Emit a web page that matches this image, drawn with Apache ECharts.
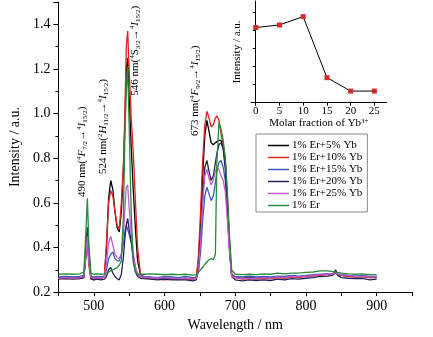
<!DOCTYPE html>
<html>
<head>
<meta charset="utf-8">
<script src="https://cdn.jsdelivr.net/npm/echarts@6/dist/echarts.min.js"></script>
<style>html,body{margin:0;padding:0;background:#fff;}#c{width:433px;height:337px;}</style>
</head>
<body>
<div id="c"></div>
<script>
const wavelength = [450,460,470,480,486,489,491,493,496,500,505,510,515,518,521,524,527,530,533,536,539,542,544,546,548,550,553,556,559,562,566,570,580,590,600,610,620,630,640,645,648,651,654,657,660,663,666,669,672,674,677,680,683,686,689,692,695,700,710,720,730,740,750,760,770,780,790,800,810,820,830,838,842,845,850,860,870,880,890,900];

const er1yb5 = [0.265,0.262,0.265,0.264,0.27,0.38,0.47,0.34,0.262,0.262,0.265,0.262,0.27,0.40,0.62,0.70,0.66,0.56,0.49,0.47,0.56,0.75,0.95,1.2,1.25,1.08,0.85,0.65,0.48,0.34,0.28,0.27,0.265,0.262,0.26,0.262,0.26,0.262,0.258,0.265,0.33,0.5,0.72,0.9,0.97,0.92,0.87,0.86,0.87,0.87,0.88,0.88,0.85,0.78,0.6,0.4,0.28,0.268,0.262,0.265,0.262,0.265,0.262,0.268,0.265,0.27,0.268,0.272,0.275,0.278,0.28,0.28,0.29,0.28,0.275,0.272,0.268,0.27,0.265,0.268];

const er1yb10 = [0.262,0.26,0.262,0.26,0.265,0.36,0.44,0.32,0.258,0.255,0.26,0.258,0.27,0.42,0.60,0.655,0.63,0.56,0.5,0.48,0.6,0.78,1.0,1.3,1.37,1.2,0.98,0.82,0.6,0.4,0.28,0.265,0.26,0.258,0.255,0.258,0.256,0.258,0.255,0.27,0.36,0.56,0.79,0.95,1.01,0.98,0.94,0.95,0.98,0.99,0.97,0.91,0.86,0.8,0.62,0.42,0.28,0.265,0.258,0.26,0.258,0.262,0.26,0.265,0.262,0.268,0.265,0.27,0.272,0.275,0.278,0.278,0.285,0.278,0.275,0.27,0.268,0.27,0.265,0.265];

const er1yb15 = [0.268,0.27,0.268,0.27,0.275,0.37,0.46,0.34,0.27,0.268,0.27,0.268,0.27,0.3,0.35,0.37,0.38,0.35,0.34,0.34,0.37,0.42,0.47,0.5,0.5,0.46,0.42,0.36,0.31,0.28,0.27,0.27,0.268,0.265,0.27,0.268,0.265,0.27,0.265,0.265,0.29,0.38,0.52,0.63,0.67,0.64,0.61,0.63,0.69,0.74,0.78,0.79,0.76,0.7,0.55,0.38,0.27,0.27,0.268,0.272,0.268,0.27,0.268,0.272,0.27,0.275,0.272,0.275,0.278,0.28,0.282,0.282,0.29,0.28,0.278,0.275,0.272,0.275,0.27,0.27];

const er1yb20 = [0.258,0.26,0.258,0.26,0.265,0.40,0.49,0.36,0.26,0.255,0.258,0.255,0.258,0.27,0.3,0.31,0.285,0.27,0.26,0.255,0.28,0.36,0.44,0.5,0.53,0.48,0.43,0.34,0.29,0.27,0.262,0.26,0.258,0.255,0.258,0.255,0.256,0.255,0.25,0.255,0.3,0.45,0.62,0.76,0.79,0.74,0.70,0.72,0.78,0.82,0.86,0.87,0.84,0.75,0.58,0.4,0.27,0.255,0.25,0.255,0.252,0.255,0.252,0.258,0.255,0.26,0.258,0.262,0.265,0.27,0.272,0.275,0.3,0.275,0.265,0.262,0.26,0.262,0.255,0.258];

const er1yb25 = [0.262,0.265,0.262,0.265,0.27,0.36,0.45,0.33,0.265,0.262,0.265,0.262,0.27,0.33,0.42,0.45,0.41,0.37,0.355,0.35,0.37,0.46,0.57,0.67,0.68,0.58,0.46,0.37,0.31,0.28,0.27,0.268,0.265,0.262,0.265,0.262,0.26,0.262,0.258,0.262,0.3,0.42,0.6,0.72,0.75,0.71,0.68,0.7,0.74,0.76,0.75,0.72,0.7,0.65,0.52,0.38,0.27,0.265,0.26,0.262,0.26,0.265,0.262,0.268,0.265,0.27,0.268,0.272,0.275,0.278,0.28,0.28,0.288,0.282,0.278,0.275,0.27,0.272,0.268,0.268];

const er1only = [0.28,0.282,0.28,0.282,0.29,0.48,0.62,0.42,0.285,0.28,0.282,0.28,0.282,0.285,0.29,0.295,0.3,0.305,0.31,0.32,0.34,0.55,0.9,1.1,1.21,0.95,0.55,0.33,0.29,0.282,0.28,0.28,0.282,0.28,0.278,0.28,0.278,0.28,0.276,0.278,0.29,0.3,0.31,0.325,0.335,0.345,0.35,0.345,0.37,0.78,0.96,0.93,0.88,0.8,0.65,0.45,0.3,0.28,0.278,0.28,0.278,0.282,0.28,0.285,0.282,0.285,0.285,0.288,0.29,0.295,0.295,0.292,0.29,0.288,0.285,0.282,0.28,0.282,0.278,0.278];

const seriesNames = ['1% Er+5% Yb','1% Er+10% Yb','1% Er+15% Yb','1% Er+20% Yb','1% Er+25% Yb','1% Er'];
const seriesValues = [er1yb5, er1yb10, er1yb15, er1yb20, er1yb25, er1only];
const seriesColors = ['#000000','#e3201b','#3a58b8','#23235c','#c25ccc','#268a3c'];

const xTickLabels = [500,600,700,800,900];
const ybFraction = [0,5,10,15,20,25];
const insetIntensity = [4.14,4.28,4.74,1.38,0.64,0.64];
const insetYTicks = [1,2,3,4,5];

const SERIF = '"Liberation Serif","Times New Roman",serif';

const chart = echarts.init(document.getElementById('c'), null, {renderer:'canvas'});

const mainSeries = seriesNames.map((name, k) => ({
  name: name,
  type: 'line',
  xAxisIndex: 0, yAxisIndex: 0,
  symbol: 'none',
  smooth: false,
  data: wavelength.map((w, i) => [w, seriesValues[k][i]]),
  lineStyle: {color: seriesColors[k], width: 1.3},
  itemStyle: {color: seriesColors[k]},
  silent: true,
  animation: false
}));

chart.setOption({
  animation: false,
  textStyle: {fontFamily: SERIF, color: '#000'},
  grid: [
    {left: 53, right: 21, top: 2, bottom: 44.3, containLabel: false},
    {left: 251, top: 1, width: 135.7, height: 101.7, containLabel: false}
  ],
  legend: {
    data: seriesNames.map(n => ({name: n, icon: 'path://M0,0 H60 V4.2 H0 Z'})),
    orient: 'vertical',
    left: 256, top: 134,
    padding: [6, 5, 1, 12],
    itemWidth: 21, itemHeight: 10, itemGap: 1,
    symbolKeepAspect: true,
    borderColor: '#888', borderWidth: 1,
    backgroundColor: '#fff',
    textStyle: {fontFamily: SERIF, fontSize: 11, color: '#000', lineHeight: 10, padding: [0,0,0,-2]},
    selectedMode: false
  },
  xAxis: [
    {
      gridIndex: 0, type: 'value', min: 450, max: 950, interval: 50,
      name: 'Wavelength / nm', nameLocation: 'middle', nameGap: 23,
      nameTextStyle: {fontFamily: SERIF, fontSize: 14, color: '#000'},
      axisLine: {show: true, lineStyle: {color: '#000', width: 1}},
      axisTick: {show: true, inside: false, length: 4, lineStyle: {color: '#000'}},
      axisLabel: {
        fontFamily: SERIF, fontSize: 14, color: '#000', margin: 7,
        formatter: v => xTickLabels.indexOf(v) >= 0 ? String(v) : ''
      },
      splitLine: {show: false}
    },
    {
      gridIndex: 1, type: 'value', min: -1, max: 27.6,
      name: '{n|Molar fraction of Yb}{sup|3+}', nameLocation: 'middle', nameGap: 13,
      nameTextStyle: {
        fontFamily: SERIF, fontSize: 11, color: '#000',
        rich: {
          n: {fontFamily: SERIF, fontSize: 11, color: '#000', lineHeight: 12},
          sup: {fontFamily: SERIF, fontSize: 7, color: '#000', verticalAlign: 'top', lineHeight: 7}
        }
      },
      axisLine: {show: true, lineStyle: {color: '#000', width: 1}},
      axisTick: {show: true, inside: false, length: 3, customValues: ybFraction, lineStyle: {color: '#000'}},
      axisLabel: {fontFamily: SERIF, fontSize: 11, color: '#000', margin: 3, customValues: ybFraction},
      splitLine: {show: false}
    }
  ],
  yAxis: [
    {
      gridIndex: 0, type: 'value', min: 0.2, max: 1.5, interval: 0.2,
      name: 'Intensity / a.u.', nameLocation: 'middle', nameGap: 30,
      nameTextStyle: {fontFamily: SERIF, fontSize: 14, color: '#000'},
      axisLine: {show: true, lineStyle: {color: '#000', width: 1}},
      axisTick: {show: true, inside: false, length: 5, lineStyle: {color: '#000'}},
      minorTick: {show: true, splitNumber: 2, length: 3, lineStyle: {color: '#000'}},
      axisLabel: {
        fontFamily: SERIF, fontSize: 14, color: '#000', margin: 8,
        showMaxLabel: false,
        formatter: v => v.toFixed(1)
      },
      splitLine: {show: false}
    },
    {
      gridIndex: 1, type: 'value', min: 0, max: 5.6,
      name: 'Intensity / a.u.', nameLocation: 'middle', nameGap: 8,
      nameTextStyle: {fontFamily: SERIF, fontSize: 11, color: '#000'},
      axisLine: {show: true, lineStyle: {color: '#000', width: 1}},
      axisTick: {show: true, inside: false, length: 3, customValues: insetYTicks, lineStyle: {color: '#000'}},
      axisLabel: {show: false},
      splitLine: {show: false}
    }
  ],
  series: mainSeries.concat([{
    name: 'inset',
    type: 'line',
    xAxisIndex: 1, yAxisIndex: 1,
    data: ybFraction.map((f, i) => [f, insetIntensity[i]]),
    symbol: 'rect', symbolSize: 5,
    lineStyle: {color: '#000', width: 1},
    itemStyle: {color: '#d42a2a'},
    silent: true,
    animation: false
  }])
});

const annRich = {
  n: {fontFamily: SERIF, fontSize: 11, color: '#000', lineHeight: 13},
  i: {fontFamily: SERIF, fontSize: 11, fontStyle: 'italic', color: '#000', lineHeight: 13},
  sup: {fontFamily: SERIF, fontSize: 7, color: '#000', verticalAlign: 'top', lineHeight: 7},
  sub: {fontFamily: SERIF, fontSize: 7, color: '#000', verticalAlign: 'bottom', lineHeight: 7}
};
const annotations = [
  {text: '{n|490 nm(}{sup|4}{i|F}{sub|7/2}{n|→}{sup|4}{i|I}{sub|15/2}{n|)}', at: [483.5, 0.626]},
  {text: '{n|524 nm(}{sup|2}{i|H}{sub|11/2}{n|→}{sup|4}{i|I}{sub|15/2}{n|)}', at: [512.8, 0.729]},
  {text: '{n|546 nm(}{sup|4}{n|S}{sub|3/2}{n|→}{sup|4}{i|I}{sub|15/2}{n|)}', at: [558.8, 1.08]},
  {text: '{n|673 nm(}{sup|4}{i|F}{sub|9/2}{n|→}{sup|4}{i|I}{sub|15/2}{n|)}', at: [643.5, 0.90]}
];
chart.setOption({
  graphic: annotations.map(a => {
    const p = chart.convertToPixel({gridIndex: 0}, a.at);
    return {
      type: 'text', x: p[0], y: p[1], rotation: Math.PI / 2, silent: true,
      style: {text: a.text, rich: annRich, align: 'left', verticalAlign: 'middle', fill: '#000', font: '11px ' + SERIF}
    };
  })
});
</script>
</body>
</html>
